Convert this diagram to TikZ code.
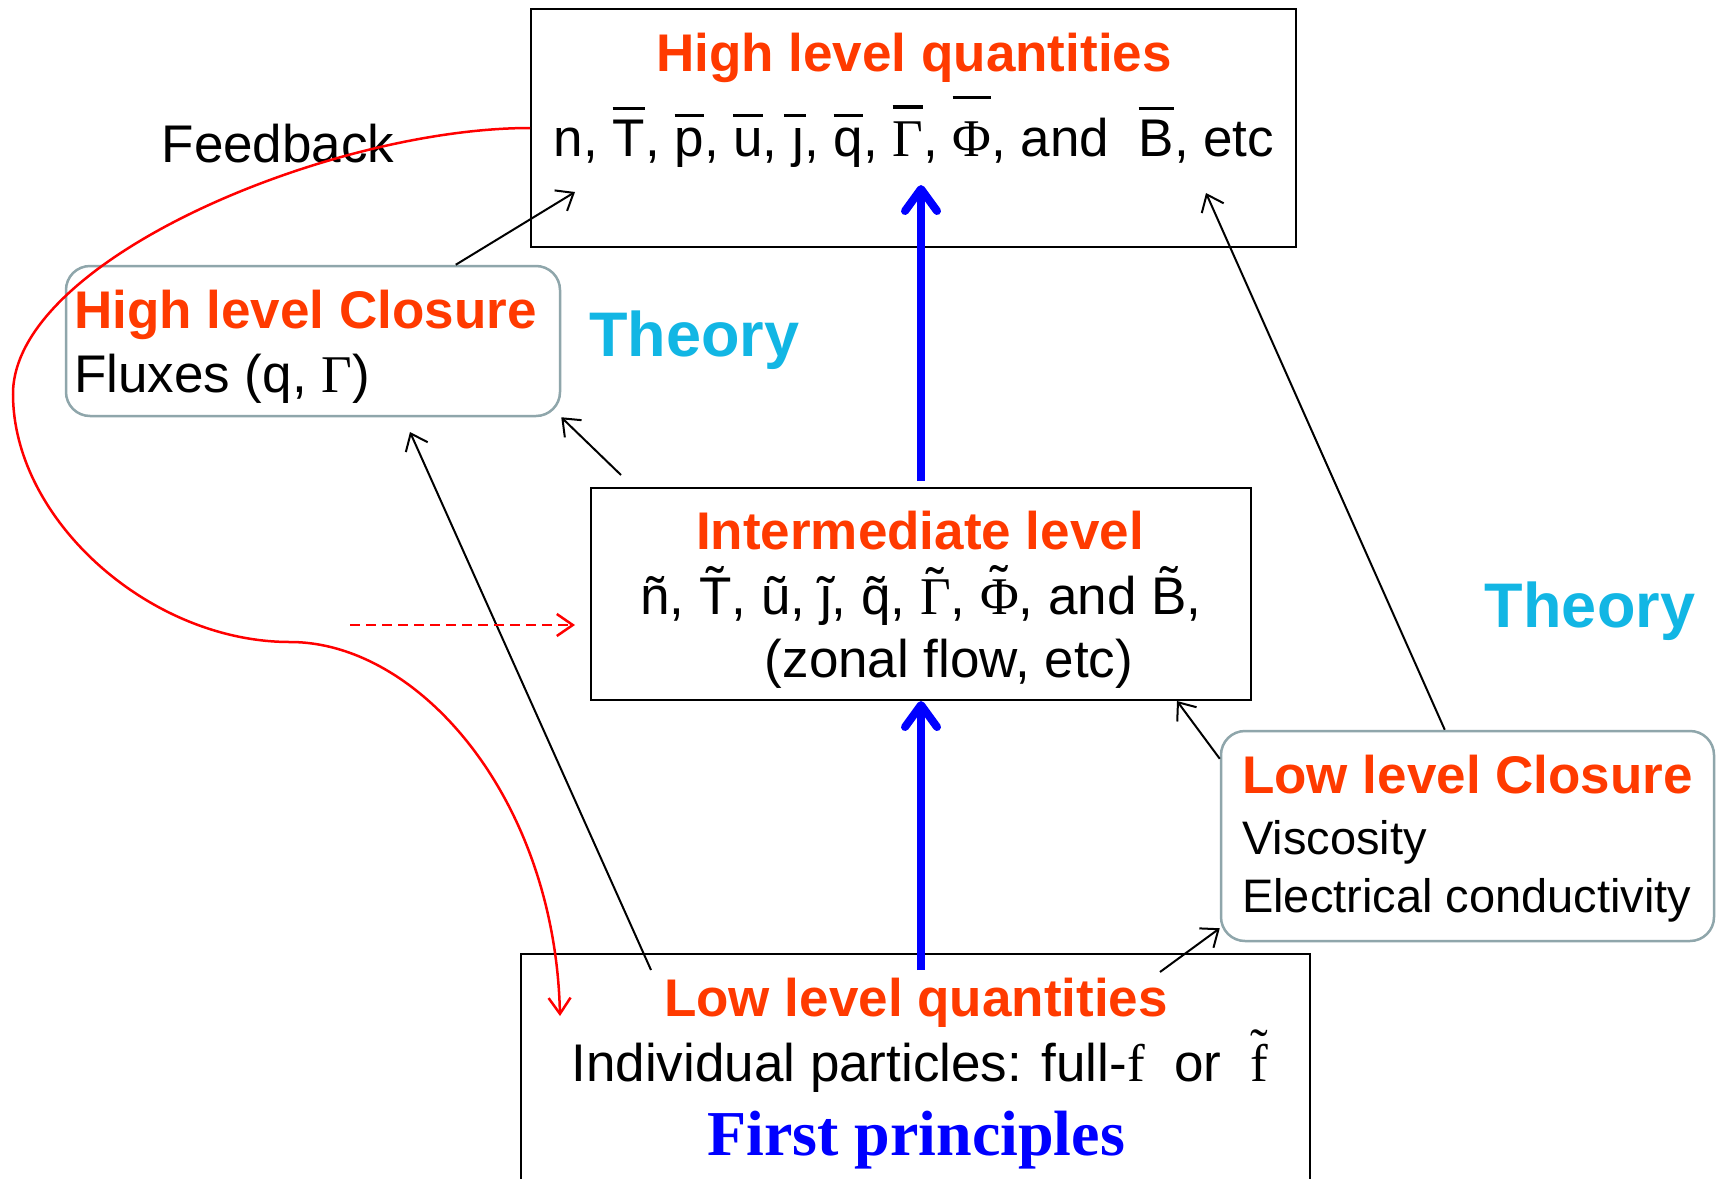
\documentclass[tikz,border=0pt]{standalone}
\usepackage{fontspec}
\setmainfont{Liberation Sans}
\newfontfamily\tms{Liberation Serif}
\usetikzlibrary{arrows.meta,calc}
\definecolor{ored}{RGB}{255,58,0}
\definecolor{tcyan}{RGB}{18,182,228}
\definecolor{bgray}{RGB}{143,166,171}
\definecolor{fblue}{RGB}{0,0,255}
% overbar: #1 = extra raise above lowercase level
\newcommand\ob[2][0pt]{\leavevmode\setbox0\hbox{#2}\rlap{\smash{\raisebox{\dimexpr0.74em+#1\relax}{\rule{\wd0}{0.065em}}}}\box0}
% overbar for dotless j (wider bar)
\newcommand\obj{\leavevmode\setbox0\hbox{ȷ}\rlap{\smash{\kern-0.16em\raisebox{0.74em}{\rule{0.42em}{0.065em}}}}\box0}
% tilde accent: #1 = extra raise
\newcommand\tl[2][0pt]{\leavevmode\setbox0\hbox{#2}\rlap{\smash{\hbox to\wd0{\hss\raisebox{#1}{\char"02DC}\hss}}}\box0}
\tikzset{
  sqbox/.style={draw=black, line width=2pt, inner sep=0pt},
  rbox/.style={draw=bgray, line width=2.5pt, rounded corners=24pt, inner sep=0pt},
  ttl/.style={font=\bfseries\fontsize{53}{62}\selectfont, text=ored, anchor=base, inner sep=0pt},
  bodyt/.style={font=\fontsize{53}{62}\selectfont, anchor=base, inner sep=0pt},
  smallt/.style={font=\fontsize{47}{56}\selectfont, anchor=base west, inner sep=0pt},
  theory/.style={font=\bfseries\fontsize{63}{70}\selectfont, text=tcyan, anchor=base, inner sep=0pt},
  thinarr/.style={draw=black, line width=2pt, -{Straight Barb[length=15pt,width=24pt]}},
  bluearr/.style={draw=fblue, line width=8pt, -{Straight Barb[length=22pt,width=32pt,round]}},
  redarr/.style={draw=red, line width=2.5pt, -{Straight Barb[length=16pt,width=22pt]}},
}
\begin{document}
\begin{tikzpicture}[x=1pt,y=-1pt]
\clip (0,0) rectangle (1716,1178);
\fill[white] (0,0) rectangle (1716,1178);
% boxes
\node[sqbox, minimum width=765pt, minimum height=238pt] (top) at (913.5,128) {};
\node[rbox, minimum width=494pt, minimum height=150pt] (hlc) at (313,341) {};
\node[sqbox, minimum width=660pt, minimum height=212pt] (inter) at (921,594) {};
\node[rbox, minimum width=493pt, minimum height=210pt] (llc) at (1467.5,836) {};
\node[sqbox, minimum width=789pt, minimum height=246pt] (llq) at (915.5,1077) {};
% texts
\node[ttl] (toptitle) at (914,71) {High level quantities};
\node[bodyt] (topline) at (914,156.5) {n, \ob[0.13em]{T}, \ob{p}, \ob{u}, \obj, \ob{q}, \ob[0.16em]{\tms Γ}, \ob[0.34em]{\tms Φ}, and~ \ob[0.13em]{B}, etc};
\node[ttl, anchor=base west] (hlctitle) at (74,328) {High level Closure};
\node[bodyt, anchor=base west] (hlcline) at (74,392) {Fluxes (q, {\tms Γ})};
\node[theory] (theory1) at (694.5,356) {Theory};
\node[theory] (theory2) at (1590,627) {Theory};
\node[bodyt] (feedback) at (278,162) {Feedback};
\node[ttl] (intitle) at (920,549) {Intermediate level};
\node[bodyt] (inline) at (921,614) {ñ, \tl[0.18em]{T}, ũ, \tl{ȷ}, \tl{q}, \tl[0.16em]{\tms Γ}, \tl[0.2em]{\tms Φ}, and \tl[0.18em]{B},};
\node[bodyt] (inline2) at (949,677) {(zonal flow, etc)};
\node[ttl, anchor=base west] (llctitle) at (1242,793) {Low level Closure};
\node[smallt] (llc1) at (1242,854) {Viscosity};
\node[smallt] (llc2) at (1242,912) {Electrical conductivity};
\node[ttl] (llqtitle) at (916,1016) {Low level quantities};
\node[bodyt] (llqline) at (920,1081) {Individual particles: full-{\tms f}~ or~ {\tms\tl[0.3em]{f}}};
\node[font=\tms\bfseries\fontsize{64}{70}\selectfont, text=fblue, anchor=base, inner sep=0pt] (fp) at (916,1155) {First principles};
% free ends
\coordinate (a1) at (575,192);
\coordinate (s2) at (621,475);
\coordinate (s3) at (651,970);
\coordinate (e3) at (410,432);
\coordinate (e4) at (1206,193);
\coordinate (s6) at (1160,972);
\coordinate (e7) at (921,185);
\coordinate (s8) at (921,970);
\coordinate (s9) at (350,625);
\coordinate (e9) at (575,625);
\coordinate (m1) at (13,394);
\coordinate (m2) at (290,642);
\coordinate (e10) at (560,1016);
% connectors
\draw[thinarr] ([xshift=391pt]hlc.north west) -- (a1);
\draw[thinarr] (s2) -- (hlc.south east);
\draw[thinarr] (s3) -- (e3);
\draw[thinarr] ([xshift=225pt]llc.north west) -- (e4);
\draw[thinarr] ([yshift=-29pt]llc.north west) -- ([xshift=-75pt]inter.south east);
\draw[thinarr] (s6) -- ([yshift=14pt]llc.south west);
\draw[bluearr] ([yshift=6pt]inter.north) -- (e7);
\draw[bluearr] (s8) -- (inter.south);
\draw[redarr, dash pattern=on 10pt off 6pt] (s9) -- (e9);
\draw[redarr] (top.west) .. controls (330,128) and (13,260) .. (m1)
  .. controls (13,520) and (150,642) .. (m2)
  .. controls (420,642) and (555,800) .. (e10);
\end{tikzpicture}
\end{document}
